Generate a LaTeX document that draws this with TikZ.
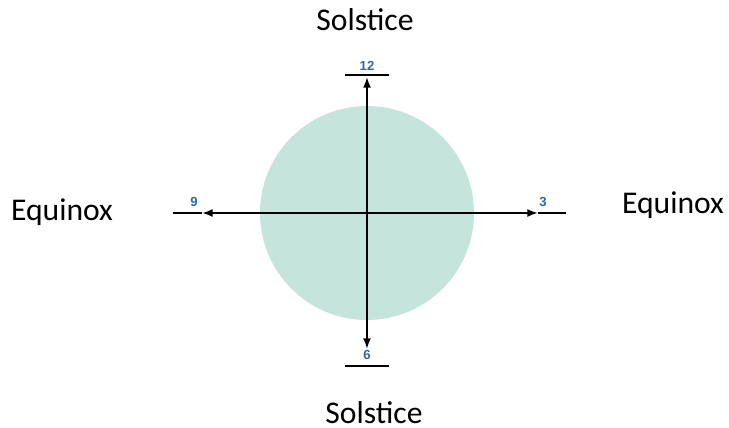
\documentclass[tikz,border=0pt]{standalone}
\usepackage{fontspec}
\setmainfont{Carlito}
\setsansfont{Liberation Sans}
\usetikzlibrary{arrows.meta}
\definecolor{disc}{HTML}{C5E5DC}
\definecolor{hour}{HTML}{2E6AA8}
\begin{document}
\begin{tikzpicture}[x=0.02cm,y=-0.02cm,
    axis/.style={line width=1.1pt,black},
    tip/.style={axis,-{Latex[length=6pt,width=4.5pt]}},
    season/.style={font=\fontsize{18}{20}\selectfont,anchor=base,inner sep=0pt},
    hourlab/.style={font=\sffamily\bfseries\fontsize{7.5}{8}\selectfont,text=hour,inner sep=0pt}]
  \useasboundingbox (0,0) rectangle (729,427);
  % Disc
  \coordinate (c) at (367,213);
  \fill[disc] (c) circle (107);
  % Ends of the axes
  \coordinate (n) at (367,77);
  \coordinate (s) at (367,349);
  \coordinate (w) at (202,213);
  \coordinate (e) at (538,213);
  \coordinate (wend) at (173,213);
  \coordinate (eend) at (566,213);
  % Axes with arrows
  \foreach \p in {n,s,w,e}
    \draw[tip] (c) -- (\p);
  \draw[axis] (w) -- (wend);
  \draw[axis] (e) -- (eend);
  % Bars at top and bottom
  \draw[axis] (345,75) -- (389,75);
  \draw[axis] (345,366) -- (389,366);
  % Clock numbers
  \node[hourlab] (h12) at (367,66) {12};
  \node[hourlab] (h6) at (367,355) {6};
  \node[hourlab] (h9) at (194,202) {9};
  \node[hourlab] (h3) at (543,202) {3};
  % Seasons
  \node[season] (top) at (365,30) {Solstice};
  \node[season] (bottom) at (374,423) {Solstice};
  \node[season] (left) at (62,220) {Equinox};
  \node[season] (right) at (673,213) {Equinox};
\end{tikzpicture}
\end{document}
